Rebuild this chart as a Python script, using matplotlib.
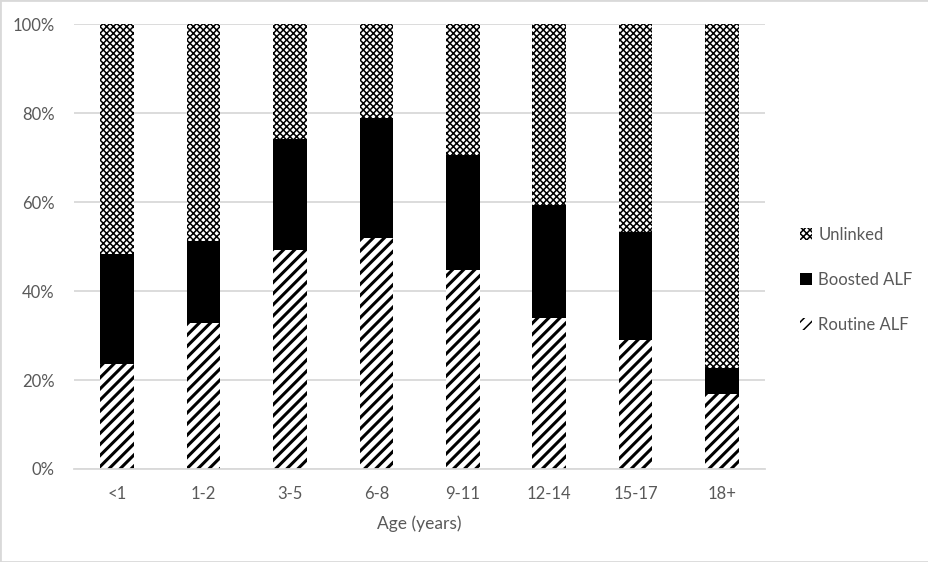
import numpy as np
import matplotlib.pyplot as plt

plt.rcParams['font.family'] = ['Lato', 'DejaVu Sans']
plt.rcParams['hatch.linewidth'] = 2.2

ages = ['<1', '1-2', '3-5', '6-8', '9-11', '12-14', '15-17', '18+']
routine = [23.6, 32.8, 49.2, 51.9, 44.7, 33.9, 29.0, 16.9]
boosted = [24.7, 18.4, 25.0, 27.0, 25.9, 25.4, 24.3, 5.8]
unlinked = [100 - r - b for r, b in zip(routine, boosted)]

grey = '#595959'
fig = plt.figure(figsize=(9.29, 5.62), dpi=100)
ax = fig.add_axes([0.0797, 0.1655, 0.7438, 0.7915])
x = np.arange(len(ages))
w = 0.39

b1 = ax.bar(x, routine, w, color='white', edgecolor='black', hatch='///', linewidth=0, label='Routine ALF')
b2 = ax.bar(x, boosted, w, bottom=routine, color='black', linewidth=0, label='Boosted ALF')
plt.rcParams['hatch.linewidth'] = 1.1
b3 = ax.bar(x, unlinked, w, bottom=np.array(routine) + np.array(boosted), color='white',
            edgecolor='black', hatch='xxxxx', linewidth=0, label='Unlinked')

ax.set_xlim(-0.5, 7.5)
ax.set_ylim(0, 100)
ax.set_yticks(range(0, 101, 20))
ax.set_yticklabels([f'{v}%' for v in range(0, 101, 20)])
ax.set_xticks(x)
ax.set_xticklabels(ages)
ax.yaxis.grid(True, color='#d9d9d9', linewidth=1.3)
ax.set_axisbelow(True)
for s in ['top', 'right', 'left']:
    ax.spines[s].set_visible(False)
ax.spines['bottom'].set_color('#d9d9d9')
ax.spines['bottom'].set_linewidth(1.3)
ax.tick_params(length=0, colors=grey, labelsize=12, pad=12)
ax.tick_params(axis='y', pad=14)
ax.set_xlabel('Age (years)', color=grey, fontsize=12.5, labelpad=10)

leg = fig.legend(handles=[b3, b2, b1], loc='center left', bbox_to_anchor=(0.845, 0.502),
                 frameon=False, fontsize=12, labelspacing=1.75, handlelength=0.7,
                 handleheight=0.7, handletextpad=0.4)
for t in leg.get_texts():
    t.set_color(grey)

fig.patches.append(plt.Rectangle((0, 0), 1, 1, transform=fig.transFigure, fill=False,
                                 edgecolor='#d9d9d9', linewidth=2))
fig.savefig('out.png', dpi=100)
